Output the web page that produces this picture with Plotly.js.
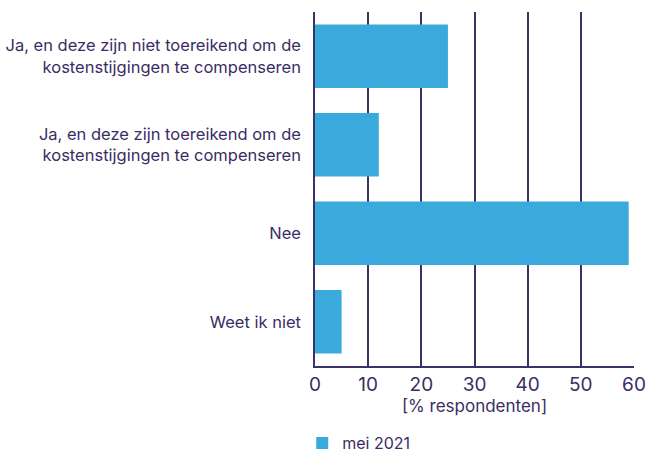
<!DOCTYPE html>
<html>
<head>
<meta charset="utf-8">
<script src="https://cdn.plot.ly/plotly-3.0.1.min.js"></script>
<style>
  body { margin: 0; background: #fff; }
  #chart { width: 646px; height: 454px; }
</style>
</head>
<body>
<div id="chart"></div>
<script>
// antwoorden, van boven naar beneden
const categories = [
  'Ja, en deze zijn niet toereikend om de<br>kostenstijgingen te compenseren',
  'Ja, en deze zijn toereikend om de<br>kostenstijgingen te compenseren',
  'Nee',
  'Weet ik niet'
];
const mei2021 = [25, 12, 59, 5];
const seriesName = 'mei 2021';
const xTicks = [0, 10, 20, 30, 40, 50, 60];

const textColor = '#3b2d64';
const lineColor = '#3f3168';

const data = [{
  type: 'bar',
  orientation: 'h',
  y: categories,
  x: mei2021,
  name: seriesName,
  marker: { color: '#3aaadd' },
  hoverinfo: 'x+y'
}];

const layout = {
  width: 646,
  height: 454,
  margin: { l: 315, r: 12, t: 12, b: 88, autoexpand: false },
  paper_bgcolor: '#fff',
  plot_bgcolor: '#fff',
  font: { family: 'Inter, "Open Sans", sans-serif', color: textColor, size: 17 },
  bargap: 0.28,
  showlegend: true,
  legend: {
    orientation: 'h',
    x: -0.04, xanchor: 'left',
    y: -0.17, yanchor: 'top',
    font: { size: 16, color: textColor }
  },
  xaxis: {
    range: [0, 60],
    tickvals: xTicks,
    showgrid: true,
    gridcolor: lineColor,
    gridwidth: 1.5,
    zeroline: false,
    showline: true,
    linecolor: lineColor,
    linewidth: 1.5,
    ticks: '',
    automargin: false,
    tickfont: { size: 19, color: textColor },
    title: { text: '[% respondenten]', font: { size: 17, color: textColor }, standoff: 6 }
  },
  yaxis: {
    autorange: 'reversed',
    showline: true,
    linecolor: lineColor,
    linewidth: 1.5,
    showgrid: false,
    ticks: '',
    automargin: false,
    ticklabelstandoff: 9,
    tickfont: { size: 16.5, color: textColor }
  }
};

Plotly.newPlot('chart', data, layout, { displayModeBar: false });
</script>
</body>
</html>
